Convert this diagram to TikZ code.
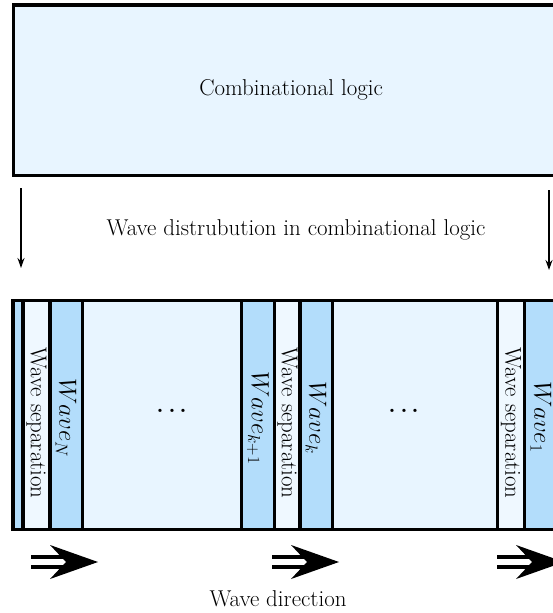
\documentclass[tikz,border=0pt]{standalone}
\usetikzlibrary{arrows.meta}
\definecolor{areablue}{RGB}{232,245,255}
\definecolor{stripblue}{RGB}{179,221,251}
\definecolor{sepblue}{RGB}{239,248,255}
\begin{document}
\begin{tikzpicture}[x=1bp,y=-1bp,
  txt/.style={font=\fontsize{23}{27}\selectfont, inner sep=0pt},
  dotstyle/.style={font=\fontsize{40}{40}\selectfont, inner sep=0pt},
  frame/.style={draw=black, line width=3.2bp},
  downarrow/.style={line width=1.5bp, -{Stealth[length=10bp,width=7bp]}},
  wavearrow/.pic={
    \draw[line width=14bp] (0,0) -- (37,0);
    \draw[white, line width=5.5bp] (-1,0) -- (36,0);
    \fill (67,0) -- (19,-17) -- (35,0) -- (19,17) -- cycle;
  }]
\useasboundingbox (0,0) rectangle (553,613);
\clip (0,0) rectangle (553,613);

% top box
\node[frame, fill=areablue, minimum width=556bp, minimum height=170bp, anchor=north west, txt]
  (logic) at (11.5,3.5) {Combinational logic};

% distribution arrows
\coordinate (l1) at (21,188);
\coordinate (l2) at (21,268);
\coordinate (r1) at (549,190);
\coordinate (r2) at (549,270);
\draw[downarrow] (l1) -- (l2);
\draw[downarrow] (r1) -- (r2);
\node[txt] (dist) at (296,230) {Wave distrubution in combinational logic};

% bottom box strips
\path[frame, fill=areablue]   (13,300.5) rectangle (580,529.5);
\path[frame, fill=stripblue]  (13,300.5) rectangle (23,529.5);
\path[frame, fill=sepblue]    (23,300.5) rectangle (50,529.5);
\path[frame, fill=stripblue]  (50,300.5) rectangle (82.5,529.5);
\path[frame, fill=stripblue]  (241.5,300.5) rectangle (274.5,529.5);
\path[frame, fill=sepblue]    (274.5,300.5) rectangle (300,529.5);
\path[frame, fill=stripblue]  (300,300.5) rectangle (332.5,529.5);
\path[frame, fill=sepblue]    (497.5,300.5) rectangle (524.5,529.5);
\path[frame, fill=stripblue]  (524.5,300.5) rectangle (558,529.5);

\node[txt, rotate=-90] (sepN) at (36.5,423) {Wave separation};
\node[txt, rotate=-90] (sepk) at (287.5,423) {Wave separation};
\node[txt, rotate=-90] (sep1) at (511,423) {Wave separation};
\node[txt, rotate=-90] (wN) at (66,418) {$Wave_N$};
\node[txt, rotate=-90] (wk1) at (258,418) {$Wave_{k+1}$};
\node[txt, rotate=-90] (wk) at (316,418) {$Wave_k$};
\node[txt, rotate=-90] (w1) at (541,417) {$Wave_1$};
\node[dotstyle] (dots1) at (172,411) {.\kern2bp.\kern2bp.};
\node[dotstyle] (dots2) at (404,411) {.\kern2bp.\kern2bp.};

% wave direction arrows
\pic at (31,562) {wavearrow};
\pic at (272,562) {wavearrow};
\pic at (497,562) {wavearrow};
\node[txt] (dir) at (278,599) {Wave direction};
\end{tikzpicture}
\end{document}
